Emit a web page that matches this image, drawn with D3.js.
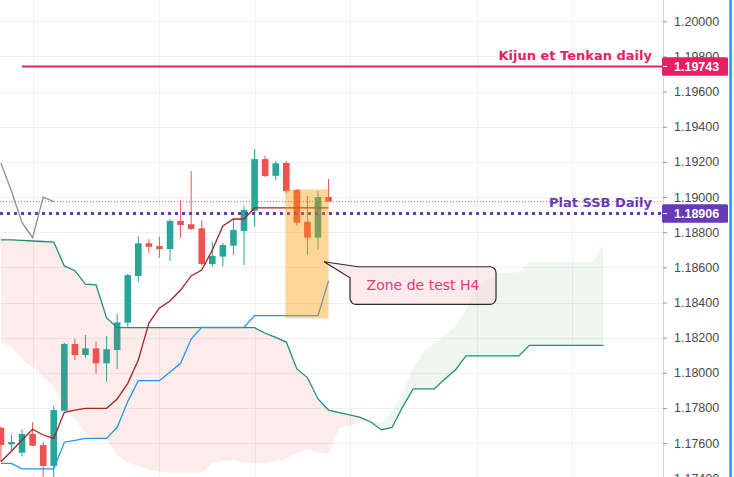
<!DOCTYPE html>
<html>
<head>
<meta charset="utf-8">
<script src="https://cdn.jsdelivr.net/npm/d3@7"></script>
<style>
  body { margin: 0; background: #fff; overflow: hidden; }
  svg { display: block; }
</style>
</head>
<body>
<div id="chart"></div>
<script>
// H4 candles (index 0 = first visible candle)
var open  = [1.17688, 1.17593, 1.17545, 1.17652, 1.17589, 1.17470, 1.17784, 1.18164, 1.18101, 1.18139,
             1.18054, 1.18130, 1.18285, 1.18551, 1.18737, 1.18721, 1.18704, 1.18864, 1.18845, 1.18822,
             1.18619, 1.18661, 1.18723, 1.18807, 1.18922, 1.19216, 1.19121, 1.19194, 1.19040, 1.18860,
             1.18769, 1.19000];
var high  = [1.17692, 1.17646, 1.17679, 1.17718, 1.17608, 1.17813, 1.18171, 1.18194, 1.18215, 1.18177,
             1.18209, 1.18335, 1.18562, 1.18778, 1.18761, 1.18774, 1.18875, 1.18983, 1.19148, 1.18869,
             1.18744, 1.18740, 1.18869, 1.18951, 1.19273, 1.19235, 1.19205, 1.19205, 1.19046, 1.19006,
             1.19034, 1.19103];
var low   = [1.17494, 1.17551, 1.17523, 1.17583, 1.17409, 1.17405, 1.17783, 1.18073, 1.18086, 1.17997,
             1.17949, 1.18022, 1.18262, 1.18518, 1.18683, 1.18655, 1.18636, 1.18769, 1.18812, 1.18613,
             1.18604, 1.18604, 1.18670, 1.18613, 1.18831, 1.19114, 1.19097, 1.19021, 1.18837, 1.18670,
             1.18699, 1.18973];
var close = [1.17589, 1.17606, 1.17652, 1.17585, 1.17470, 1.17788, 1.18164, 1.18101, 1.18139, 1.18054,
             1.18134, 1.18287, 1.18556, 1.18737, 1.18717, 1.18704, 1.18864, 1.18841, 1.18818, 1.18619,
             1.18665, 1.18727, 1.18813, 1.18926, 1.19216, 1.19120, 1.19192, 1.19034, 1.18854, 1.18769,
             1.19000, 1.18974];

// ichimoku lines
var tenkan = [1.17494, 1.17555, 1.17618, 1.17679, 1.17646, 1.17627, 1.17775, 1.17788, 1.17798, 1.17798,
              1.17798, 1.17851, 1.17940, 1.18073, 1.18283, 1.18369, 1.18409, 1.18471, 1.18551, 1.18585,
              1.18699, 1.18835, 1.18875, 1.18875, 1.18938, 1.18938, 1.18938, 1.18938, 1.18938, 1.18938,
              1.18938, 1.18938];
var kijun  = [1.17485, 1.17485, 1.17453, 1.17453, 1.17453, 1.17453, 1.17605, 1.17615, 1.17627, 1.17627,
              1.17627, 1.17690, 1.17836, 1.17955, 1.17955, 1.17955, 1.18005, 1.18054, 1.18192, 1.18259,
              1.18259, 1.18259, 1.18259, 1.18259, 1.18325, 1.18325, 1.18325, 1.18325, 1.18325, 1.18325,
              1.18325, 1.18524];
// leading spans, already shifted 26 candles forward
var spanA  = [1.18756, 1.18756, 1.18753, 1.18750, 1.18747, 1.18744, 1.18608, 1.18581, 1.18504, 1.18500,
              1.18312, 1.18257, 1.18257, 1.18257, 1.18257, 1.18257, 1.18257, 1.18257, 1.18257, 1.18257,
              1.18257, 1.18257, 1.18257, 1.18257, 1.18257, 1.18225, 1.18201, 1.18175, 1.18022, 1.17973,
              1.17851, 1.17788, 1.17774, 1.17760, 1.17746, 1.17720, 1.17675, 1.17689, 1.17805, 1.17908,
              1.17908, 1.17908, 1.17965, 1.18016, 1.18096, 1.18096, 1.18096, 1.18096, 1.18096, 1.18096,
              1.18156, 1.18156, 1.18156, 1.18156, 1.18156, 1.18156, 1.18156, 1.18156];
var spanB  = [1.18170, 1.18148, 1.18073, 1.18035, 1.17978, 1.17921, 1.17807, 1.17731, 1.17656, 1.17627,
              1.17618, 1.17532, 1.17488, 1.17470, 1.17447, 1.17437, 1.17432, 1.17432, 1.17432, 1.17432,
              1.17485, 1.17500, 1.17504, 1.17488, 1.17488, 1.17488, 1.17498, 1.17510, 1.17544, 1.17565,
              1.17549, 1.17538, 1.17686, 1.17697, 1.17722, 1.17722, 1.17714, 1.17777, 1.17885, 1.18027,
              1.18121, 1.18164, 1.18209, 1.18266, 1.18357, 1.18485, 1.18528, 1.18566, 1.18569, 1.18572,
              1.18629, 1.18629, 1.18629, 1.18629, 1.18629, 1.18629, 1.18629, 1.18733];
// lagging span = closes drawn 26 candles back
var chikou = close.slice(26);

var priceTicks = [1.174, 1.176, 1.178, 1.180, 1.182, 1.184, 1.186, 1.188, 1.190, 1.192, 1.194, 1.196, 1.198, 1.200];
var timeGrid = [3, 15, 24, 33, 45, 54];

// drawings
var kijunTenkanDaily = 1.19743;
var platSSBDaily = 1.18906;
var zoneX = [26.9, 31.0];
var zoneP = [1.19044, 1.18310];
var calloutAt = [30.57, 1.18632];

//svg dimensions
var svgW = 734;
var svgH = 477;
var plotW = 663;

var x = d3.scaleLinear().domain([0, 62.64]).range([0.9, plotW]);
var y = d3.scaleLinear().domain([1.174, 1.2]).range([478.25, 21.3]);

var svg = d3.select("#chart").append("svg")
    .attr("width", svgW)
    .attr("height", svgH);

var defs = svg.append("defs");
defs.append("clipPath").attr("id", "plot")
    .append("rect").attr("width", plotW).attr("height", svgH);

//cloud clips: above and below span B
var aboveB = d3.area().x((d, i) => x(i)).y0(0).y1(d => y(d));
var belowB = d3.area().x((d, i) => x(i)).y0(d => y(d)).y1(svgH);
defs.append("clipPath").attr("id", "aboveB").append("path").attr("d", aboveB(spanB));
defs.append("clipPath").attr("id", "belowB").append("path").attr("d", belowB(spanB));

var plot = svg.append("g").attr("clip-path", "url(#plot)");

//grid
plot.append("g").selectAll("line")
    .data(priceTicks)
    .enter().append("line")
    .attr("x1", 0).attr("x2", plotW)
    .attr("y1", d => Math.round(y(d)) + 0.5)
    .attr("y2", d => Math.round(y(d)) + 0.5)
    .attr("stroke", "#eef0f3");
plot.append("g").selectAll("line")
    .data(timeGrid)
    .enter().append("line")
    .attr("x1", d => Math.round(x(d)) + 0.5)
    .attr("x2", d => Math.round(x(d)) + 0.5)
    .attr("y1", 0).attr("y2", svgH)
    .attr("stroke", "#eef0f3");

//candles
var candles = open.map((o, i) => ({ i: i, o: o, h: high[i], l: low[i], c: close[i] }));
var cg = plot.append("g").selectAll("g")
    .data(candles)
    .enter().append("g")
    .attr("fill", d => d.c >= d.o ? "#26A69A" : "#EF5350");
cg.append("rect")
    .attr("x", d => x(d.i) - 0.5)
    .attr("width", 1)
    .attr("y", d => y(d.h))
    .attr("height", d => y(d.l) - y(d.h));
cg.append("rect")
    .attr("x", d => x(d.i) - 3.3)
    .attr("width", 6.6)
    .attr("y", d => y(Math.max(d.o, d.c)))
    .attr("height", d => Math.max(1, Math.abs(y(d.o) - y(d.c))));

//cloud fill
var band = d3.area()
    .x((d, i) => x(i))
    .y0(d => y(d))
    .y1((d, i) => y(spanB[i]));
plot.append("path")
    .attr("d", band(spanA))
    .attr("clip-path", "url(#aboveB)")
    .attr("fill", "rgba(244, 67, 54, 0.1)");
plot.append("path")
    .attr("d", band(spanA))
    .attr("clip-path", "url(#belowB)")
    .attr("fill", "rgba(76, 175, 80, 0.1)");

//ichimoku lines
var line = d3.line().x((d, i) => x(i)).y(d => y(d));
function drawLine(data, color) {
    plot.append("path")
        .attr("d", line(data))
        .attr("fill", "none")
        .attr("stroke", color)
        .attr("stroke-width", 1.3);
}
drawLine(spanA, "#1E8C7E");
drawLine(kijun, "#2196F3");
drawLine(tenkan, "#A32424");
drawLine(chikou, "#8D8D96");

//current price line
plot.append("line")
    .attr("x1", 0).attr("x2", plotW)
    .attr("y1", y(close[close.length - 1])).attr("y2", y(close[close.length - 1]))
    .attr("stroke", "#EF5350")
    .attr("stroke-dasharray", "1,2");

//daily levels
plot.append("line")
    .attr("x1", x(2)).attr("x2", plotW)
    .attr("y1", y(kijunTenkanDaily)).attr("y2", y(kijunTenkanDaily))
    .attr("stroke", "#E91E63")
    .attr("stroke-width", 2);
plot.append("line")
    .attr("x1", 0).attr("x2", plotW)
    .attr("y1", y(platSSBDaily)).attr("y2", y(platSSBDaily))
    .attr("stroke", "#673AB7")
    .attr("stroke-width", 3)
    .attr("stroke-dasharray", "3,4");

plot.append("text")
    .attr("x", 652).attr("y", y(kijunTenkanDaily) - 6)
    .attr("text-anchor", "end")
    .attr("font-family", "DejaVu Sans")
    .attr("font-weight", "bold")
    .attr("font-size", "13px")
    .attr("fill", "#E91E63")
    .text("Kijun et Tenkan daily");
plot.append("text")
    .attr("x", 652).attr("y", y(platSSBDaily) - 7)
    .attr("text-anchor", "end")
    .attr("font-family", "DejaVu Sans")
    .attr("font-weight", "bold")
    .attr("font-size", "13px")
    .attr("fill", "#673AB7")
    .text("Plat SSB Daily");

//test zone
plot.append("rect")
    .attr("x", x(zoneX[0]))
    .attr("width", x(zoneX[1]) - x(zoneX[0]))
    .attr("y", y(zoneP[0]))
    .attr("height", y(zoneP[1]) - y(zoneP[0]))
    .attr("fill", "#FF9800")
    .attr("fill-opacity", 0.4);

//callout
var tx = x(calloutAt[0]), ty = y(calloutAt[1]);
var bx = tx + 26, by = ty + 5, bw = 146, bh = 37.6, r = 6;
var callout = d3.path();
callout.moveTo(bx + 8, by);
callout.lineTo(bx + bw - r, by);
callout.arcTo(bx + bw, by, bx + bw, by + r, r);
callout.lineTo(bx + bw, by + bh - r);
callout.arcTo(bx + bw, by + bh, bx + bw - r, by + bh, r);
callout.lineTo(bx + r, by + bh);
callout.arcTo(bx, by + bh, bx, by + bh - r, r);
callout.lineTo(bx, by + 11);
callout.lineTo(tx, ty);
callout.closePath();
plot.append("path")
    .attr("d", callout.toString())
    .attr("fill", "rgba(249, 213, 219, 0.5)")
    .attr("stroke", "#2b2b2b")
    .attr("stroke-width", 1.2);
plot.append("text")
    .attr("x", bx + bw / 2).attr("y", by + 23)
    .attr("text-anchor", "middle")
    .attr("font-family", "DejaVu Sans")
    .attr("font-size", "14px")
    .attr("fill", "#E53974")
    .text("Zone de test H4");

//price axis
svg.append("line")
    .attr("x1", plotW + 0.5).attr("x2", plotW + 0.5)
    .attr("y1", 0).attr("y2", svgH)
    .attr("stroke", "#d6d6d6");

var axis = svg.append("g")
    .attr("transform", `translate(${plotW}, 0)`)
    .call(d3.axisRight(y)
        .tickValues(priceTicks)
        .tickFormat(d3.format(".5f"))
        .tickSize(4)
        .tickSizeOuter(0)
        .tickPadding(7));
axis.select(".domain").remove();
axis.selectAll(".tick line").attr("stroke", "#9a9a9a");
axis.selectAll(".tick text")
    .attr("font-family", "Liberation Sans")
    .attr("font-size", "12.5px")
    .attr("fill", "#4a4a4a");

function priceBox(value, color) {
    var g = svg.append("g").attr("transform", `translate(${plotW - 1}, ${y(value)})`);
    g.append("rect")
        .attr("x", 0).attr("y", -9.2)
        .attr("width", 66).attr("height", 18.4)
        .attr("rx", 1.5)
        .attr("fill", color);
    g.append("line")
        .attr("x1", 1).attr("x2", 5)
        .attr("stroke", "#fff");
    g.append("text")
        .attr("x", 12).attr("dy", "0.35em")
        .attr("font-family", "Liberation Sans")
        .attr("font-weight", "bold")
        .attr("font-size", "12.5px")
        .attr("fill", "#fff")
        .text(d3.format(".5f")(value));
}
priceBox(kijunTenkanDaily, "#E91E63");
priceBox(platSSBDaily, "#673AB7");

//right edge stripe
svg.append("rect")
    .attr("x", 729.3).attr("width", 2.5)
    .attr("y", 0).attr("height", svgH)
    .attr("fill", "#2196F3");
</script>
</body>
</html>
